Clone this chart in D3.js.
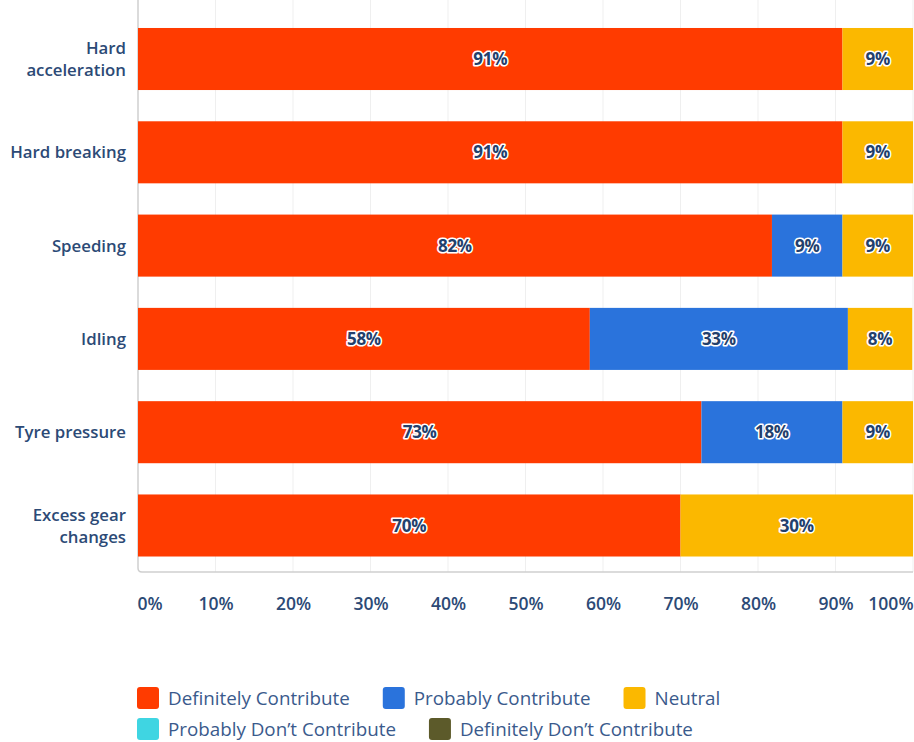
<!DOCTYPE html>
<html>
<head>
<meta charset="utf-8">
<script src="https://cdn.jsdelivr.net/npm/d3@7"></script>
<style>
  html, body { margin: 0; padding: 0; background: #fff; }
  svg { display: block; }
</style>
</head>
<body>
<svg id="chart" width="914" height="742"></svg>
<script>
// Survey: which driving behaviours contribute to fuel use (share of responses, %)
const categories = ["Hard acceleration", "Hard breaking", "Speeding", "Idling", "Tyre pressure", "Excess gear changes"];
const categoryLines = [["Hard", "acceleration"], ["Hard breaking"], ["Speeding"], ["Idling"], ["Tyre pressure"], ["Excess gear", "changes"]];
const seriesNames = ["Definitely Contribute", "Probably Contribute", "Neutral", "Probably Don\u2019t Contribute", "Definitely Don\u2019t Contribute"];
const definitelyContribute = [90.9, 90.9, 81.8, 58.3, 72.7, 70.0];
const probablyContribute   = [0, 0, 9.1, 33.3, 18.2, 0];
const neutral              = [9.1, 9.1, 9.1, 8.3, 9.1, 30.0];
const probablyDont         = [0, 0, 0, 0, 0, 0];
const definitelyDont       = [0, 0, 0, 0, 0, 0];
const tickValues = [0, 10, 20, 30, 40, 50, 60, 70, 80, 90, 100];
const colors = ["#ff3b00", "#2a73dc", "#fbb800", "#3fd5e2", "#5c5a2a"];

const svg = d3.select("#chart");
const left = 138, right = 913, frameBottom = 572;
const textColor = "#2c4a76";
const font = "Open Sans, sans-serif";

const x = d3.scaleLinear().domain([0, 100]).range([left, right]);
const y = d3.scaleBand().domain(categories).range([0, 584.5]).paddingInner(0.335).paddingOuter(0.3);

const table = categories.map((c, i) => ({
  category: c,
  [seriesNames[0]]: definitelyContribute[i],
  [seriesNames[1]]: probablyContribute[i],
  [seriesNames[2]]: neutral[i],
  [seriesNames[3]]: probablyDont[i],
  [seriesNames[4]]: definitelyDont[i]
}));
const stacked = d3.stack().keys(seriesNames)(table);

// gridlines
svg.append("g").selectAll("line").data(tickValues.slice(1)).join("line")
  .attr("x1", d => x(d)).attr("x2", d => x(d))
  .attr("y1", 0).attr("y2", frameBottom)
  .attr("stroke", "#efefef").attr("stroke-width", 1);

// axis frame (left and bottom with a rounded corner)
svg.append("path")
  .attr("d", `M${left},0 V${frameBottom - 4} Q${left},${frameBottom} ${left + 4},${frameBottom} H${right}`)
  .attr("fill", "none").attr("stroke", "#cfcfcf").attr("stroke-width", 1.5);

// bars
const layers = svg.append("g").selectAll("g").data(stacked).join("g")
  .attr("fill", (d, i) => colors[i]);
layers.selectAll("rect").data(d => d.filter(s => s[1] - s[0] > 0).map(s => ({ s, key: d.key })))
  .join("rect")
  .attr("x", d => x(d.s[0]))
  .attr("width", d => x(d.s[1]) - x(d.s[0]))
  .attr("y", d => y(d.s.data.category))
  .attr("height", y.bandwidth());

// value labels with white halo
const labels = [];
stacked.forEach(layer => layer.forEach(s => {
  const v = s[1] - s[0];
  if (v > 0) labels.push({ cx: (x(s[0]) + x(s[1])) / 2, cat: s.data.category, v });
}));
svg.append("g").selectAll("text").data(labels).join("text")
  .attr("x", d => d.cx)
  .attr("y", d => y(d.cat) + y.bandwidth() / 2)
  .attr("dy", "0.36em")
  .attr("text-anchor", "middle")
  .attr("font-family", font)
  .attr("font-weight", 700)
  .attr("font-size", 17)
  .attr("letter-spacing", -0.3)
  .attr("fill", "#23406c")
  .attr("stroke", "#ffffff")
  .attr("stroke-width", 3.2)
  .attr("stroke-linejoin", "round")
  .attr("paint-order", "stroke")
  .text(d => Math.round(d.v) + "%");

// category labels
const catG = svg.append("g");
categories.forEach((c, i) => {
  const lines = categoryLines[i];
  const cy = y(c) + y.bandwidth() / 2;
  const t = catG.append("text")
    .attr("x", 126)
    .attr("text-anchor", "end")
    .attr("font-family", font)
    .attr("font-weight", 600)
    .attr("font-size", 16.8)
    .attr("fill", textColor);
  lines.forEach((ln, j) => {
    t.append("tspan").attr("x", 126)
      .attr("y", cy + (j - (lines.length - 1) / 2) * 22)
      .attr("dy", "0.36em")
      .text(ln);
  });
});

// x axis tick labels
const xAxis = d3.axisBottom(x).tickValues(tickValues).tickSize(0).tickFormat(d => d + "%");
const axisG = svg.append("g").attr("transform", `translate(0,${frameBottom})`).call(xAxis);
axisG.select(".domain").remove();
axisG.selectAll("text")
  .attr("y", 26)
  .attr("font-family", font)
  .attr("font-weight", 600)
  .attr("font-size", 17.5)
  .attr("fill", textColor)
  .attr("text-anchor", d => d === 0 ? "start" : d === 100 ? "end" : "middle")
  .attr("dx", d => d === 0 ? -1 : 0);

// legend
const legend = svg.append("g");
const rows = [[0, 1, 2], [3, 4]];
const rowY = [698, 729];
rows.forEach((row, r) => {
  let cx = 137;
  row.forEach(k => {
    legend.append("rect")
      .attr("x", cx).attr("y", rowY[r] - 11)
      .attr("width", 22).attr("height", 22)
      .attr("rx", 3)
      .attr("fill", colors[k]);
    const t = legend.append("text")
      .attr("x", cx + 31).attr("y", rowY[r])
      .attr("dy", "0.36em")
      .attr("font-family", font)
      .attr("font-size", 18.8)
      .attr("fill", "#3a5a8c")
      .text(seriesNames[k]);
    cx += 31 + t.node().getComputedTextLength() + 33;
  });
});
</script>
</body>
</html>
